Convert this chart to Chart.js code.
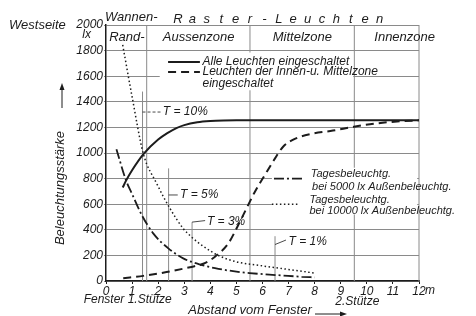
<!DOCTYPE html>
<html>
<head>
<meta charset="utf-8">
<script src="https://cdn.jsdelivr.net/npm/chart.js@4/dist/chart.umd.min.js"></script>
<style>
  html, body { margin: 0; padding: 0; background: #fff; }
  #chart { display: block; }
</style>
</head>
<body>
<canvas id="chart" width="476" height="316"></canvas>
<script>
// Abstand vom Fenster (m) / Beleuchtungsstärke (lx)
const distAll = [0.64, 0.77, 1.0, 1.45, 2.0, 2.35, 2.7, 3.0, 3.5, 4.0, 4.5, 5.0, 12];
const luxAll  = [730, 784, 865, 995, 1105, 1155, 1195, 1218, 1240, 1250, 1254, 1255, 1255];

const distInner = [0.66, 1.43, 2.32, 3.22, 3.73, 4.18, 4.69, 5.07, 5.39, 5.71, 6.09, 6.48, 6.79, 7.24, 7.88, 8.7, 9.5, 10.4, 11.3, 12];
const luxInner  = [22, 40, 70, 108, 135, 190, 294, 437, 568, 698, 828, 958, 1049, 1110, 1150, 1175, 1205, 1232, 1248, 1255];

const dist5000 = [0.4, 0.77, 1.0, 1.37, 1.81, 2.39, 2.96, 3.67, 4.18, 5.0, 5.5, 6.26, 6.7, 7.5, 8.0];
const lux5000  = [1030, 784, 680, 516, 372, 255, 177, 125, 100, 73, 62, 50, 44, 33, 28];

const dist10000 = [0.64, 1.0, 1.43, 1.94, 2.45, 2.96, 3.3, 3.6, 4.0, 4.3, 5.0, 6.0, 7.0, 8.0];
const lux10000  = [1844, 1440, 995, 763, 568, 410, 340, 290, 235, 200, 150, 118, 90, 62];

const xTickValues = [0, 1, 2, 3, 4, 5, 6, 7, 8, 9, 10, 11, 12];
const yTickValues = [0, 200, 400, 600, 800, 1000, 1200, 1400, 1600, 1800, 2000];

const zoneNames  = ['Rand-', 'Aussenzone', 'Mittelzone', 'Innenzone'];
const zoneBounds = [0, 1.56, 5.52, 9.52, 12];
const supportNames = ['1.Stütze', '2.Stütze'];
const supportDist  = [1.56, 9.52];

const tNames = ['T = 10%', 'T = 5%', 'T = 3%', 'T = 1%'];
const tDist  = [1.4, 2.4, 3.3, 6.48];
const tTop   = [1480, 880, 460, 350];

const INK = '#1c1c1c';
const GRID = '#8a8a8a';
const FONT = "'Liberation Sans', 'DejaVu Sans', sans-serif";

const pts = (xs, ys) => xs.map((x, i) => ({ x: x, y: ys[i] }));

const styleAll   = { width: 2,   dash: [] };
const styleInner = { width: 2,   dash: [8, 5] };
const style5000  = { width: 1.8, dash: [10, 3, 2, 3] };
const style10000 = { width: 1.5, dash: [1.5, 2.5] };

function line(ctx, x1, y1, x2, y2) {
    ctx.beginPath();
    ctx.moveTo(x1, y1);
    ctx.lineTo(x2, y2);
    ctx.stroke();
}

function sample(ctx, x1, x2, y, st) {
    ctx.save();
    ctx.strokeStyle = INK;
    ctx.lineWidth = st.width;
    ctx.setLineDash(st.dash);
    line(ctx, x1, y, x2, y);
    ctx.restore();
}

const drawings = {
    id: 'drawings',
    beforeDatasetsDraw(chart) {
        const ctx = chart.ctx;
        const X = v => chart.scales.x.getPixelForValue(v);
        const Y = v => chart.scales.y.getPixelForValue(v);
        ctx.save();
        ctx.strokeStyle = GRID;
        ctx.lineWidth = 1;
        // Stützen / Zonengrenzen
        zoneBounds.slice(1).forEach(v => line(ctx, X(v), Y(0), X(v), Y(2000)));
        // Markierungen T
        tDist.forEach((d, i) => line(ctx, X(d), Y(0), X(d), Y(tTop[i])));
        // Legendenfelder freistellen
        ctx.fillStyle = '#fff';
        ctx.fillRect(X(2.06), Y(1785), X(9.48) - X(2.06), Y(1490) - Y(1785));
        ctx.fillRect(X(6.36), Y(885), X(11.93) - X(6.36), Y(520) - Y(885));
        ctx.restore();
    },
    afterDatasetsDraw(chart) {
        const ctx = chart.ctx;
        const X = v => chart.scales.x.getPixelForValue(v);
        const Y = v => chart.scales.y.getPixelForValue(v);
        ctx.save();
        ctx.fillStyle = INK;
        ctx.strokeStyle = INK;
        ctx.textBaseline = 'middle';

        // Kopf
        ctx.font = 'italic 13px ' + FONT;
        ctx.textAlign = 'left';
        ctx.fillText('Westseite', 9, 25);
        ctx.fillText('Wannen-', 105, 17);
        const head = 'Raster-Leuchten';
        ctx.textAlign = 'center';
        for (let i = 0; i < head.length; i++) {
            ctx.fillText(head[i], 178 + i * 14.4, 19);
        }
        const zoneX = [0.8, 3.55, 7.53, 11.45];
        ctx.font = 'italic 13px ' + FONT;
        zoneNames.forEach((n, i) => ctx.fillText(n, X(zoneX[i]), Y(1900)));

        // y-Achse
        ctx.font = 'italic 12px ' + FONT;
        ctx.textAlign = 'right';
        ctx.fillText('lx', 91, 35);
        ctx.save();
        ctx.translate(60, 188);
        ctx.rotate(-Math.PI / 2);
        ctx.textAlign = 'center';
        ctx.font = 'italic 13px ' + FONT;
        ctx.fillText('Beleuchtungsstärke', 0, 0);
        ctx.restore();
        ctx.lineWidth = 1;
        line(ctx, 62, 108, 62, 86);
        ctx.beginPath();
        ctx.moveTo(62, 83); ctx.lineTo(59.5, 90); ctx.lineTo(64.5, 90); ctx.closePath(); ctx.fill();

        // x-Achse
        ctx.textAlign = 'left';
        ctx.font = 'italic 12px ' + FONT;
        ctx.fillText('m', X(12) + 6, 291);
        ctx.textAlign = 'center';
        ctx.fillText('Fenster', X(0) - 2, 300);
        supportNames.forEach((n, i) => ctx.fillText(n, X(supportDist[i]) + 3, 300 + i * 2));
        ctx.font = 'italic 13px ' + FONT;
        ctx.fillText('Abstand vom Fenster', 250, 310);
        line(ctx, 315, 314, 343, 314);
        ctx.beginPath();
        ctx.moveTo(347, 314); ctx.lineTo(340, 311.5); ctx.lineTo(340, 316.5); ctx.closePath(); ctx.fill();

        // T-Beschriftungen
        ctx.font = 'italic 12px ' + FONT;
        ctx.textAlign = 'left';
        ctx.lineWidth = 0.8;
        ctx.save();
        ctx.setLineDash([3, 2]);
        line(ctx, X(tDist[0]), Y(1320), X(2.12), Y(1320));
        ctx.restore();
        ctx.fillText(tNames[0], X(2.18), Y(1320));
        line(ctx, X(tDist[1]), Y(672), X(2.75), Y(672));
        ctx.fillText(tNames[1], X(2.84), Y(672));
        line(ctx, X(tDist[2]), Y(tTop[2]), X(3.8), Y(472));
        ctx.fillText(tNames[2], X(3.87), Y(463));
        line(ctx, X(tDist[3]), Y(285), X(6.9), Y(320));
        ctx.fillText(tNames[3], X(7.0), Y(305));

        // Legende oben
        sample(ctx, X(2.38), X(3.6), Y(1711), styleAll);
        sample(ctx, X(2.38), X(3.6), Y(1633), styleInner);
        ctx.fillText('Alle Leuchten eingeschaltet', X(3.7), Y(1711));
        ctx.fillText('Leuchten der Innen-u. Mittelzone', X(3.7), Y(1633));
        ctx.fillText('eingeschaltet', X(3.7), Y(1545));

        // Legende unten
        sample(ctx, X(6.44), X(7.55), Y(800), style5000);
        sample(ctx, X(6.36), X(7.43), Y(600), style10000);
        ctx.font = 'italic 11px ' + FONT;
        ctx.fillText('Tagesbeleuchtg.', X(7.85), Y(840));
        ctx.fillText('bei 5000 lx Außenbeleuchtg.', X(7.9), Y(736));
        ctx.fillText('Tagesbeleuchtg.', X(7.8), Y(632));
        ctx.fillText('bei 10000 lx Außenbeleuchtg.', X(7.8), Y(550));
        ctx.restore();
    }
};

const mkSet = (label, xs, ys, st) => ({
    label: label,
    data: pts(xs, ys),
    showLine: true,
    borderColor: INK,
    borderWidth: st.width,
    borderDash: st.dash,
    pointRadius: 0,
    cubicInterpolationMode: 'monotone',
    fill: false
});

new Chart(document.getElementById('chart'), {
    type: 'scatter',
    data: {
        datasets: [
            mkSet('Alle Leuchten eingeschaltet', distAll, luxAll, styleAll),
            mkSet('Leuchten der Innen- u. Mittelzone eingeschaltet', distInner, luxInner, styleInner),
            mkSet('Tagesbeleuchtg. bei 5000 lx Außenbeleuchtg.', dist5000, lux5000, style5000),
            mkSet('Tagesbeleuchtg. bei 10000 lx Außenbeleuchtg.', dist10000, lux10000, style10000)
        ]
    },
    options: {
        responsive: false,
        animation: false,
        layout: { padding: { top: 25, right: 57, left: 0, bottom: 0 } },
        plugins: {
            legend: { display: false },
            tooltip: { enabled: false }
        },
        scales: {
            x: {
                type: 'linear', min: 0, max: 12,
                afterFit: s => { s.height = 35; },
                afterBuildTicks: s => { s.ticks = xTickValues.map(v => ({ value: v })); },
                ticks: {
                    color: INK, padding: 0, maxRotation: 0, autoSkip: false,
                    font: { family: FONT, style: 'italic', size: 12 },
                    callback: v => String(v)
                },
                grid: { display: true, drawOnChartArea: false, tickLength: 3, color: INK },
                border: { color: INK, width: 1.5 }
            },
            y: {
                type: 'linear', min: 0, max: 2000,
                afterFit: s => { s.width = 106; },
                afterBuildTicks: s => { s.ticks = yTickValues.map(v => ({ value: v })); },
                ticks: {
                    color: INK, padding: 1, autoSkip: false,
                    font: { family: FONT, style: 'italic', size: 12 },
                    callback: v => String(v)
                },
                grid: { color: GRID, lineWidth: 1, tickLength: 2 },
                border: { color: INK, width: 1.5 }
            }
        }
    },
    plugins: [drawings]
});
</script>
</body>
</html>
